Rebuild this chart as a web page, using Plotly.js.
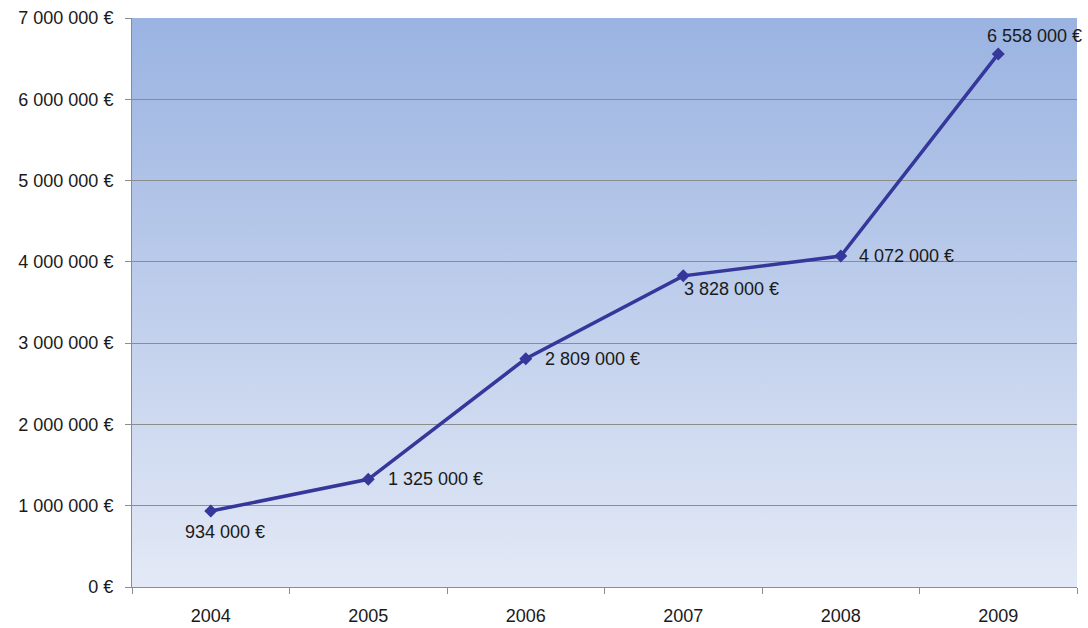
<!DOCTYPE html>
<html>
<head>
<meta charset="utf-8">
<script src="https://cdn.plot.ly/plotly-3.0.1.min.js"></script>
<style>
  html, body { margin: 0; padding: 0; background: #ffffff; }
  #chart { width: 1088px; height: 628px; }
</style>
</head>
<body>
<div id="chart"></div>
<script>
const years = ['2004', '2005', '2006', '2007', '2008', '2009'];
const revenue = [934000, 1325000, 2809000, 3828000, 4072000, 6558000];
const yTickValues = [0, 1000000, 2000000, 3000000, 4000000, 5000000, 6000000, 7000000];

function fmtEuro(v) {
  return String(v).replace(/\B(?=(\d{3})+(?!\d))/g, ' ') + ' €';
}

// label offsets (pixels) relative to each marker
const labelOffsets = [
  { xanchor: 'center', xshift: 14, yshift: -21 },
  { xanchor: 'left', xshift: 18, yshift: 0 },
  { xanchor: 'left', xshift: 17, yshift: 0 },
  { xanchor: 'left', xshift: -1, yshift: -13 },
  { xanchor: 'left', xshift: 16, yshift: 0 },
  { xanchor: 'left', xshift: -13, yshift: 18 }
];

const gradSvg = '<svg xmlns="http://www.w3.org/2000/svg" width="100" height="100" preserveAspectRatio="none">' +
  '<defs><linearGradient id="g" x1="0" y1="0" x2="0" y2="1">' +
  '<stop offset="0" stop-color="#9ab3e1"/><stop offset="1" stop-color="#e3e9f6"/>' +
  '</linearGradient></defs><rect width="100" height="100" fill="url(#g)"/></svg>';

const trace = {
  type: 'scatter',
  mode: 'lines+markers',
  x: years,
  y: revenue,
  line: { color: '#35379b', width: 3.5 },
  marker: { symbol: 'diamond', size: 10, color: '#35379b' },
  cliponaxis: false,
  hoverinfo: 'x+y'
};

const annotations = years.map((yr, i) => ({
  x: i,
  y: revenue[i],
  xref: 'x',
  yref: 'y',
  text: fmtEuro(revenue[i]),
  showarrow: false,
  xanchor: labelOffsets[i].xanchor,
  yanchor: 'middle',
  xshift: labelOffsets[i].xshift,
  yshift: labelOffsets[i].yshift,
  font: { family: 'Liberation Sans, Arial, sans-serif', size: 18, color: '#1a1a1a' }
}));

const layout = {
  width: 1088,
  height: 628,
  margin: { l: 132, r: 11, t: 18, b: 41 },
  paper_bgcolor: '#ffffff',
  plot_bgcolor: 'rgba(0,0,0,0)',
  showlegend: false,
  font: { family: 'Liberation Sans, Arial, sans-serif', size: 18, color: '#1a1a1a' },
  images: [{
    source: 'data:image/svg+xml;charset=utf-8,' + encodeURIComponent(gradSvg),
    xref: 'paper', yref: 'paper',
    x: 0, y: 1, sizex: 1, sizey: 1,
    xanchor: 'left', yanchor: 'top',
    sizing: 'stretch',
    layer: 'below'
  }],
  xaxis: {
    type: 'category',
    categoryorder: 'array',
    categoryarray: years,
    range: [-0.5, years.length - 0.5],
    autorange: false,
    tickson: 'boundaries',
    ticks: 'outside',
    ticklen: 6,
    tickcolor: '#8c8c8c',
    showgrid: false,
    showline: true,
    linecolor: '#8c8c8c',
    linewidth: 1,
    ticklabelstandoff: 12,
    tickangle: 0,
    tickfont: { size: 18, color: '#1a1a1a' },
    fixedrange: true
  },
  yaxis: {
    range: [0, 7000000],
    autorange: false,
    tickvals: yTickValues,
    ticktext: yTickValues.map(fmtEuro),
    ticks: 'outside',
    ticklen: 6,
    tickcolor: '#8c8c8c',
    showgrid: true,
    gridcolor: '#8c8c8c',
    gridwidth: 1,
    zeroline: false,
    showline: true,
    linecolor: '#8c8c8c',
    linewidth: 1,
    ticklabelstandoff: 8,
    tickfont: { size: 18, color: '#1a1a1a' },
    fixedrange: true
  },
  annotations: annotations
};

Plotly.newPlot('chart', [trace], layout, { displayModeBar: false, staticPlot: true });
</script>
</body>
</html>
